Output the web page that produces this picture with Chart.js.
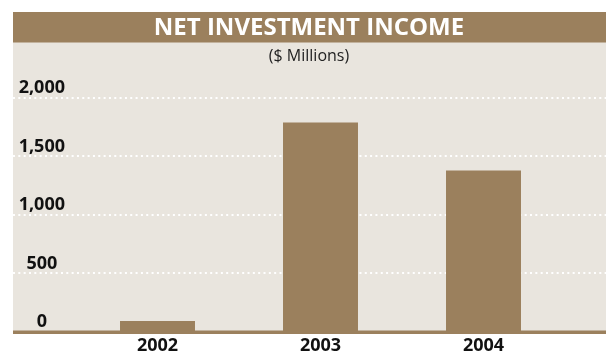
<!DOCTYPE html>
<html>
<head>
<meta charset="utf-8">
<script src="https://cdn.jsdelivr.net/npm/chart.js@4"></script>
<style>
  html, body { margin: 0; padding: 0; background: #fff; }
  #wrap { width: 606px; height: 354px; }
</style>
</head>
<body>
<div id="wrap"><canvas id="income-chart" width="606" height="354"></canvas></div>
<script>
// Dane wykresu
const years = ['2002', '2003', '2004'];
const netIncome = [95, 1790, 1380]; // $ mln
const yTickValues = [0, 500, 1000, 1500, 2000];

const brown = '#9b805d';
const panel = '#e9e5de';
const panelLeft = 13;

// Tło: beżowy panel i brązowy pasek tytułu
const backgroundPlugin = {
    id: 'panelBackground',
    beforeDraw(chart) {
        const ctx = chart.ctx;
        const y = chart.scales.y;
        const zero = y.getPixelForValue(0);
        ctx.save();
        ctx.fillStyle = '#fff';
        ctx.fillRect(0, 0, chart.width, chart.height);
        ctx.fillStyle = panel;
        ctx.fillRect(panelLeft, 42, chart.width - panelLeft, zero - 42);
        ctx.fillStyle = brown;
        ctx.fillRect(panelLeft, 12, chart.width - panelLeft, 30.5);
        ctx.restore();
    }
};

// Kropkowane linie siatki na całą szerokość panelu + gruba linia zera
const gridPlugin = {
    id: 'dottedGrid',
    beforeDatasetsDraw(chart) {
        const ctx = chart.ctx;
        const y = chart.scales.y;
        ctx.save();
        ctx.strokeStyle = '#fff';
        ctx.lineWidth = 2;
        ctx.setLineDash([2, 3.33]);
        yTickValues.filter(v => v > 0).forEach(v => {
            const py = Math.round(y.getPixelForValue(v));
            ctx.beginPath();
            ctx.moveTo(panelLeft, py);
            ctx.lineTo(chart.width, py);
            ctx.stroke();
        });
        ctx.restore();
    },
    afterDatasetsDraw(chart) {
        const ctx = chart.ctx;
        const py = chart.scales.y.getPixelForValue(0);
        ctx.save();
        ctx.fillStyle = brown;
        ctx.fillRect(panelLeft, py - 1.5, chart.width - panelLeft, 3.5);
        ctx.restore();
    }
};

new Chart(document.getElementById('income-chart'), {
    type: 'bar',
    data: {
        labels: years,
        datasets: [{
            label: 'Net investment income',
            data: netIncome,
            backgroundColor: brown,
            borderWidth: 0,
            categoryPercentage: 1,
            barPercentage: 0.46
        }]
    },
    options: {
        responsive: false,
        animation: false,
        layout: { padding: { left: 12, right: 0, top: 12, bottom: -6 } },
        scales: {
            x: {
                grid: { display: false, drawTicks: false },
                border: { display: false },
                ticks: {
                    color: '#111',
                    padding: 5,
                    font: { family: 'Open Sans', size: 18, weight: 'bold', lineHeight: 1 }
                }
            },
            y: {
                min: 0,
                max: 2000,
                afterBuildTicks: scale => { scale.ticks = yTickValues.map(v => ({ value: v })); },
                afterFit: scale => { scale.width = 64; },
                grid: { display: false, drawTicks: false },
                border: { display: false },
                ticks: {
                    color: '#111',
                    crossAlign: 'center',
                    padding: 11,
                    labelOffset: -10,
                    font: { family: 'Open Sans', size: 18, weight: 'bold' },
                    callback: v => v.toLocaleString('en-US')
                }
            },
            // pusta oś po prawej - tylko margines obszaru wykresu
            yRight: {
                axis: 'y',
                position: 'right',
                afterFit: scale => { scale.width = 41; },
                grid: { display: false, drawTicks: false },
                border: { display: false },
                ticks: { display: false }
            }
        },
        plugins: {
            legend: { display: false },
            tooltip: { enabled: false },
            title: {
                display: true,
                text: 'NET INVESTMENT INCOME',
                color: '#fff',
                padding: { top: 1.5, bottom: 0 },
                font: { family: 'Open Sans', size: 24, weight: 'bold', lineHeight: 1.2 }
            },
            subtitle: {
                display: true,
                text: '($ Millions)',
                color: '#222',
                padding: { top: 4.2, bottom: 32.2 },
                font: { family: 'Open Sans', size: 16, weight: 'normal', lineHeight: 1.2 }
            }
        }
    },
    plugins: [backgroundPlugin, gridPlugin]
});
</script>
</body>
</html>
